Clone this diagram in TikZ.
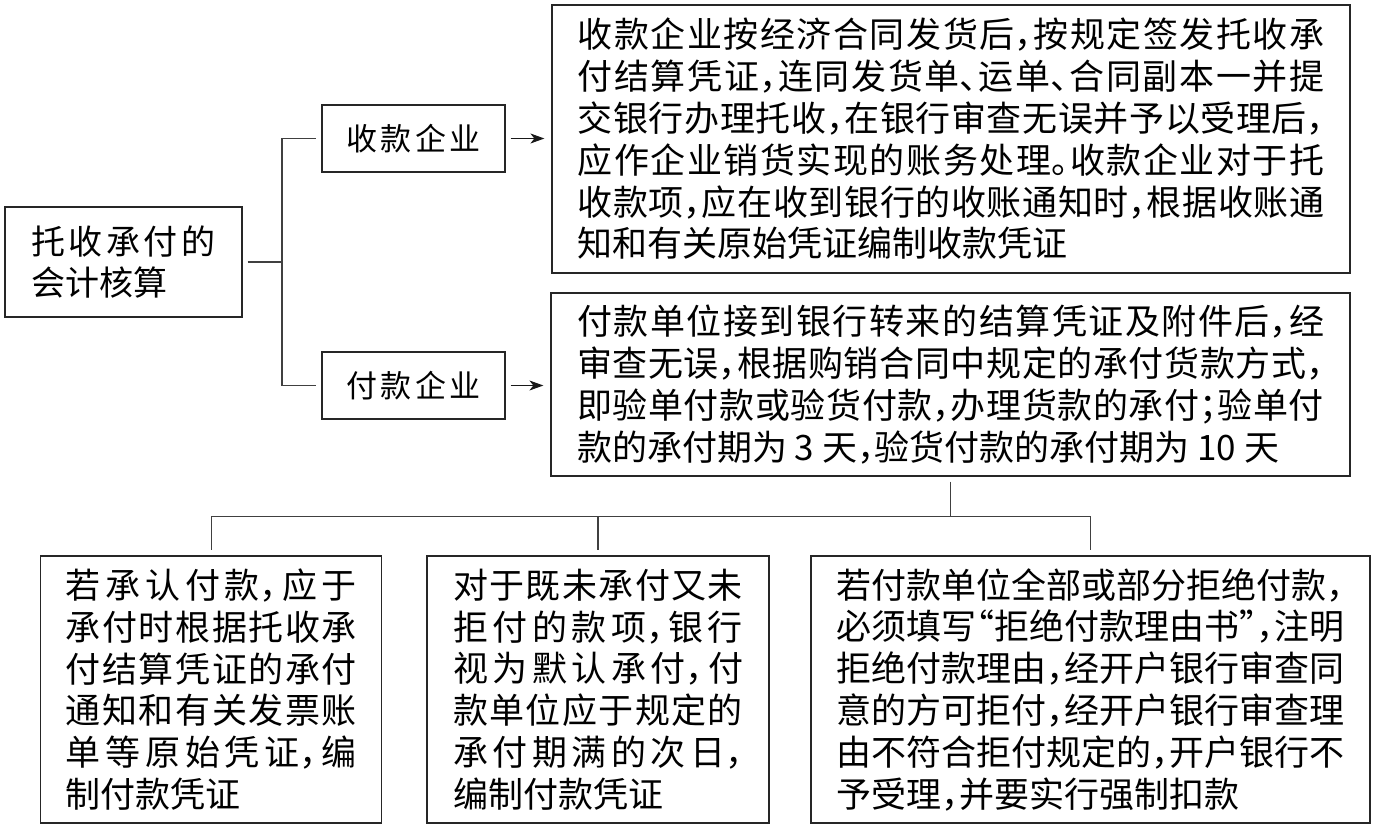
\documentclass[tikz,border=0pt]{standalone}
\usepackage{fontspec}
\newfontfamily\cjk[RawFeature=+halt]{Noto Sans CJK SC}
\usetikzlibrary{arrows.meta}
\XeTeXlinebreaklocale "zh"
\XeTeXlinebreakskip=0pt plus 8pt minus 0.6pt
\setlength{\parindent}{0pt}
\begin{document}
\begin{tikzpicture}[x=1pt,y=-1pt,
  box/.style={draw=black!85, line width=1.2pt, inner sep=0pt, align=justify,
    font=\cjk\fontsize{35}{41.8}\selectfont},
  sbox/.style={draw=black!85, line width=1.2pt, inner sep=0pt, align=center,
    font=\cjk\fontsize{31}{38}\selectfont},
  conn/.style={draw=black!75, line width=1.1pt},
  arr/.style={draw=black!90, line width=1.1pt, -{Stealth[length=14pt,width=10pt,inset=4pt]}, shorten <=5pt, shorten >=7pt}]
\useasboundingbox (0,0) rectangle (1377,829);

% root
\node[box, font=\cjk\fontsize{34}{41}\selectfont, minimum width=237pt, minimum height=110pt, text width=184pt] (root) at (123.5,262)
  {\makebox[184pt][s]{托\hfill 收\hfill 承\hfill 付\hfill 的}\\会计核算};

% second level
\node[sbox, minimum width=183pt, minimum height=67pt] (A1) at (413.5,138.5)
  {\makebox[135pt][s]{收\hfill 款\hfill 企\hfill 业}};
\node[sbox, minimum width=183pt, minimum height=67pt] (A2) at (413.5,385.5)
  {\makebox[135pt][s]{付\hfill 款\hfill 企\hfill 业}};

% detail boxes
\node[box, minimum width=798pt, minimum height=268pt, text width=747pt] (B1) at (951,139)
  {收款企业按经济合同发货后，按规定签发托收承\linebreak
   付结算凭证，连同发货单、运单、合同副本一并提\linebreak
   交银行办理托收，在银行审查无误并予以受理后，\linebreak
   应作企业销货实现的账务处理。收款企业对于托\linebreak
   收款项，应在收到银行的收账通知时，根据收账通\linebreak
   知和有关原始凭证编制收款凭证};
\node[box, minimum width=799pt, minimum height=183pt, text width=747pt] (B2) at (950.5,384.5)
  {付款单位接到银行转来的结算凭证及附件后，经\linebreak
   审查无误，根据购销合同中规定的承付货款方式，\linebreak
   即验单付款或验货付款，办理货款的承付；验单付\linebreak
   款的承付期为 3 天，验货付款的承付期为 10 天};

% bottom boxes
\node[box, minimum width=341pt, minimum height=267pt, text width=291pt] (Ca) at (211.3,689.5)
  {若承认付款，应于\linebreak
   承付时根据托收承\linebreak
   付结算凭证的承付\linebreak
   通知和有关发票账\linebreak
   单等原始凭证，编\linebreak
   制付款凭证};
\node[box, minimum width=342pt, minimum height=267pt, text width=290pt] (Cb) at (598,689.5)
  {对于既未承付又未\linebreak
   拒付的款项，银行\linebreak
   视为默认承付，付\linebreak
   款单位应于规定的\linebreak
   承付期满的次日，\linebreak
   编制付款凭证};
\node[box, minimum width=559pt, minimum height=267pt, text width=508pt] (Cc) at (1090.5,689.5)
  {若付款单位全部或部分拒绝付款，\linebreak
   必须填写“拒绝付款理由书”，注明\linebreak
   拒绝付款理由，经开户银行审查同\linebreak
   意的方可拒付，经开户银行审查理\linebreak
   由不符合拒付规定的，开户银行不\linebreak
   予受理，并要实行强制扣款};

% connectors: root to second level
\coordinate (j1) at (282,262);
\draw[conn, shorten <=5pt] (root.east) -- (j1);
\draw[conn, shorten >=5pt] (j1) |- (A1.west);
\draw[conn, shorten >=5pt] (j1) |- (A2.west);

% arrows
\draw[arr] (A1.east) -- (A1.east -| B1.west);
\draw[arr] (A2.east) -- (A2.east -| B2.west);

% bottom tree
\path (B2.south) ++(0,40) coordinate (j2);
\draw[conn, shorten <=5pt] (B2.south) -- (j2);
\draw[conn, shorten >=5pt] (j2) -| (Ca.north);
\draw[conn, shorten >=5pt] (j2) -| (Cc.north);
\draw[conn, shorten >=5pt] (Cb.north |- j2) -- (Cb.north);
\end{tikzpicture}
\end{document}
